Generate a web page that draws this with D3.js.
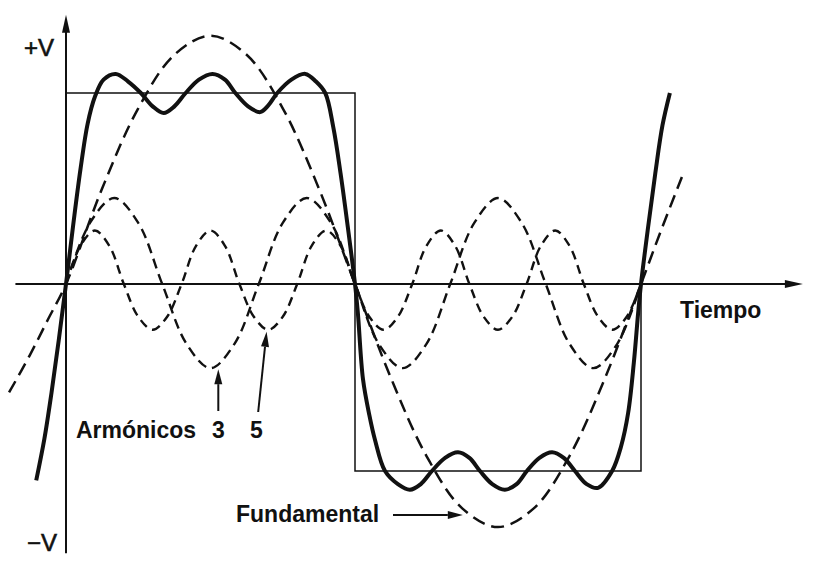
<!DOCTYPE html>
<html>
<head>
<meta charset="utf-8">
<script src="https://cdn.jsdelivr.net/npm/d3@7"></script>
<style>
  html, body { margin: 0; padding: 0; background: #fff; }
  svg { display: block; }
  .lbl { font-family: "Liberation Sans", Arial, Helvetica, sans-serif; font-weight: bold; font-size: 23px; fill: #111; }
  .vlbl { font-family: "Liberation Sans", Arial, Helvetica, sans-serif; font-size: 24px; fill: #111; stroke: #111; stroke-width: 0.6px; }
</style>
</head>
<body>
<div id="chart"></div>
<script>
// ---- Data (time in half-periods, amplitude relative to square wave ±1) ----
const squareT = [0, 0, 1, 1, 2, 2];
const squareV = [0, 1, 1, -1, -1, 0];

const fundT = [-0.197, -0.125, -0.0625, 0, 0.125, 0.25, 0.375, 0.5, 0.625, 0.75, 0.875, 1,
               1.125, 1.25, 1.375, 1.5, 1.625, 1.75, 1.875, 2, 2.07, 2.143];
const fundV = [-0.58, -0.38, -0.19, 0, 0.50, 0.92, 1.20, 1.30, 1.20, 0.92, 0.50, 0,
               -0.50, -0.92, -1.20, -1.30, -1.20, -0.92, -0.50, 0, 0.28, 0.56];

const harm3T = [0, 0.083, 0.167, 0.25, 0.333, 0.417, 0.5, 0.583, 0.667, 0.75, 0.833, 0.917, 1,
                1.083, 1.167, 1.25, 1.333, 1.417, 1.5, 1.583, 1.667, 1.75, 1.833, 1.917, 2];
const harm3V = [0, 0.32, 0.45, 0.32, 0, -0.32, -0.45, -0.32, 0, 0.32, 0.45, 0.32, 0,
                -0.32, -0.45, -0.32, 0, 0.32, 0.45, 0.32, 0, -0.32, -0.45, -0.32, 0];

const harm5T = [0, 0.05, 0.1, 0.15, 0.2, 0.25, 0.3, 0.35, 0.4, 0.45, 0.5, 0.55, 0.6, 0.65, 0.7, 0.75,
                0.8, 0.85, 0.9, 0.95, 1, 1.05, 1.1, 1.15, 1.2, 1.25, 1.3, 1.35, 1.4, 1.45, 1.5,
                1.55, 1.6, 1.65, 1.7, 1.75, 1.8, 1.85, 1.9, 1.95, 2];
const harm5V = [0, 0.2, 0.28, 0.2, 0, -0.175, -0.245, -0.175, 0, 0.2, 0.28, 0.2, 0, -0.175, -0.245, -0.175,
                0, 0.2, 0.28, 0.2, 0, -0.175, -0.245, -0.175, 0, 0.2, 0.28, 0.2, 0, -0.175, -0.245,
                -0.175, 0, 0.2, 0.28, 0.2, 0, -0.175, -0.245, -0.175, 0];

const sumT = [-0.103, -0.075, -0.05, -0.025, 0, 0.025, 0.05, 0.075, 0.1, 0.13, 0.172, 0.215, 0.259, 0.30,
              0.338, 0.375, 0.414, 0.46, 0.507, 0.55, 0.586, 0.63, 0.672, 0.70, 0.731, 0.78, 0.828,
              0.865, 0.897, 0.925, 0.95, 0.975, 1,
              1.01, 1.028, 1.05, 1.07, 1.105, 1.15, 1.192, 1.23, 1.269, 1.315, 1.36, 1.40, 1.437,
              1.48, 1.524, 1.565, 1.601, 1.645, 1.689, 1.73, 1.769, 1.81, 1.85, 1.899, 1.93, 1.955,
              1.975, 1.99, 2, 2.025, 2.05, 2.075, 2.101];
const sumV = [-1.05, -0.83, -0.58, -0.30, 0, 0.31, 0.60, 0.84, 0.98, 1.07, 1.10, 1.06, 1.0, 0.93,
              0.895, 0.93, 1.0, 1.07, 1.10, 1.07, 1.0, 0.93, 0.90, 0.935, 1.0, 1.07, 1.10,
              1.06, 1.0, 0.82, 0.58, 0.30, 0,
              -0.155, -0.51, -0.70, -0.834, -1.0, -1.07, -1.10, -1.07, -1.0, -0.93, -0.90, -0.93, -1.0,
              -1.07, -1.10, -1.07, -1.0, -0.93, -0.90, -0.93, -1.0, -1.07, -1.09, -1.0, -0.87, -0.69,
              -0.42, -0.155, 0, 0.30, 0.58, 0.83, 1.0];

const labels = ["+V", "\u2212V", "Tiempo", "Armónicos", "3", "5", "Fundamental"];

// ---- Layout ----
const W = 817, H = 569;
const svg = d3.select("#chart").append("svg").attr("width", W).attr("height", H);
svg.append("rect").attr("width", W).attr("height", H).attr("fill", "#fff");

const x = d3.scaleLinear().domain([0, 1, 2]).range([66, 355, 641]);
const y = d3.scaleLinear().domain([-1, 0, 1]).range([471, 284, 93]);

const ink = "#111";
const zip = (a, b) => a.map((v, i) => [v, b[i]]);
const smooth = d3.line().x(d => x(d[0])).y(d => y(d[1])).curve(d3.curveCatmullRom.alpha(0.5));
const straight = d3.line().x(d => x(d[0])).y(d => y(d[1]));

// Axes (no ticks)
const xAxisExtent = [-0.175, 2.566];
const yAxisExtent = [-1.44, 1.41];
svg.append("line")
  .attr("x1", x(xAxisExtent[0])).attr("x2", x(xAxisExtent[1]) - 10)
  .attr("y1", y(0)).attr("y2", y(0))
  .attr("stroke", ink).attr("stroke-width", 2);
svg.append("line")
  .attr("x1", x(0)).attr("x2", x(0))
  .attr("y1", y(yAxisExtent[0])).attr("y2", y(yAxisExtent[1]) + 10)
  .attr("stroke", ink).attr("stroke-width", 2);
// arrow heads
const xt = x(xAxisExtent[1]), yt = y(yAxisExtent[1]);
svg.append("path").attr("d", `M${xt},${y(0)} L${xt - 18},${y(0) - 4} L${xt - 18},${y(0) + 4} Z`).attr("fill", ink);
svg.append("path").attr("d", `M${x(0)},${yt} L${x(0) - 4},${yt + 18} L${x(0) + 4},${yt + 18} Z`).attr("fill", ink);

// Square wave
svg.append("path").attr("d", straight(zip(squareT, squareV)))
  .attr("fill", "none").attr("stroke", ink).attr("stroke-width", 1.5);

// Harmonics
svg.append("path").attr("d", smooth(zip(harm3T, harm3V)))
  .attr("fill", "none").attr("stroke", ink).attr("stroke-width", 2.4)
  .attr("stroke-dasharray", "10 6");
svg.append("path").attr("d", smooth(zip(harm5T, harm5V)))
  .attr("fill", "none").attr("stroke", ink).attr("stroke-width", 2.4)
  .attr("stroke-dasharray", "9 6");

// Fundamental
svg.append("path").attr("d", smooth(zip(fundT, fundV)))
  .attr("fill", "none").attr("stroke", ink).attr("stroke-width", 2.5)
  .attr("stroke-dasharray", "13 7");

// Sum
svg.append("path").attr("d", smooth(zip(sumT, sumV)))
  .attr("fill", "none").attr("stroke", ink).attr("stroke-width", 4)
  .attr("stroke-linejoin", "round");

// Labels
svg.append("text").attr("class", "vlbl").attr("x", 24).attr("y", 56).text(labels[0]);
svg.append("text").attr("class", "vlbl").attr("x", 27).attr("y", 551).text(labels[1]);
svg.append("text").attr("class", "lbl").attr("x", 680).attr("y", 318).text(labels[2]);
svg.append("text").attr("class", "lbl").attr("x", 76).attr("y", 438).text(labels[3]);
svg.append("text").attr("class", "lbl").attr("x", 212).attr("y", 438).text(labels[4]);
svg.append("text").attr("class", "lbl").attr("x", 250).attr("y", 438).text(labels[5]);
svg.append("text").attr("class", "lbl").attr("x", 236).attr("y", 522).text(labels[6]);

// Annotation arrows
function arrow(x1, y1, x2, y2) {
  const a = Math.atan2(y2 - y1, x2 - x1), L = 15, w = 4;
  const bx = x2 - L * Math.cos(a), by = y2 - L * Math.sin(a);
  svg.append("line").attr("x1", x1).attr("y1", y1).attr("x2", bx).attr("y2", by)
    .attr("stroke", ink).attr("stroke-width", 2);
  svg.append("path").attr("d",
    `M${x2},${y2} L${bx + w * Math.sin(a)},${by - w * Math.cos(a)} L${bx - w * Math.sin(a)},${by + w * Math.cos(a)} Z`)
    .attr("fill", ink);
}
arrow(x(0.527), 411, x(0.527), y(-0.45) + 1);
arrow(x(0.665), 412, x(0.694), y(-0.245) + 2);
arrow(393, 515, x(1.377), 515);
</script>
</body>
</html>
